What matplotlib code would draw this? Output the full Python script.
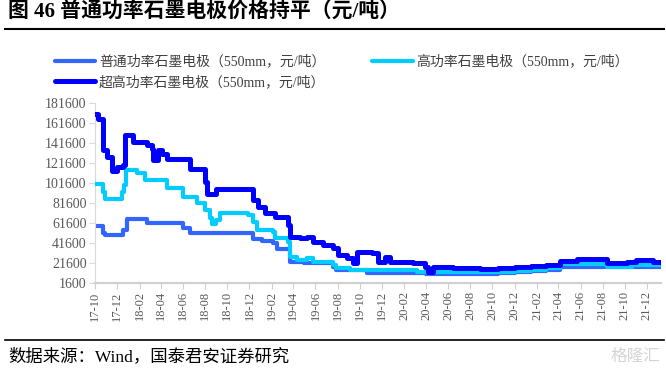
import numpy as np
import pandas as pd
import matplotlib
matplotlib.use('Agg')
import matplotlib.pyplot as plt
import matplotlib.dates as mdates
from matplotlib.lines import Line2D

plt.rcParams['font.family'] = ['Liberation Serif', 'Noto Sans CJK SC']

# 普通功率石墨电极 (550mm, 元/吨)
rp_dates = ['2017-10-01', '2017-10-24', '2017-10-29', '2017-12-18', '2017-12-27', '2018-02-21',
            '2018-06-01', '2018-06-20', '2018-12-11', '2019-01-04', '2019-02-05', '2019-02-14',
            '2019-03-23', '2019-05-01', '2019-07-20', '2019-07-29', '2019-10-20', '2020-04-01',
            '2020-08-27', '2020-10-15', '2020-12-01', '2021-01-15', '2021-02-27', '2021-04-05',
            '2022-01-10']
rp_vals = [59000, 51300, 49600, 54600, 65600, 61300,
           56300, 52000, 45300, 43900, 41300, 35300,
           23000, 21500, 17900, 14600, 11900, 11000,
           10600, 11500, 12500, 13500, 14600, 17300,
           17300]

# 高功率石墨电极 (550mm, 元/吨)
hp_dates = ['2017-10-01', '2017-10-24', '2017-10-29', '2017-12-14', '2017-12-20', '2017-12-25',
            '2018-01-24', '2018-02-16', '2018-04-17', '2018-06-01', '2018-07-08', '2018-07-31',
            '2018-08-14', '2018-08-19', '2018-09-01', '2018-09-11', '2018-11-28', '2018-12-11',
            '2018-12-21', '2019-02-05', '2019-02-09', '2019-03-18', '2019-03-23', '2019-04-10',
            '2019-05-10', '2019-05-26', '2019-07-20', '2019-07-29', '2019-09-04', '2020-03-06',
            '2020-08-27', '2020-10-15', '2020-12-01', '2021-01-15', '2021-02-27', '2021-04-05',
            '2021-08-14', '2021-10-20', '2022-01-10']
hp_vals = [101000, 93000, 85600, 93000, 100000, 114600,
           111300, 104600, 96300, 88000, 81300, 74600,
           66300, 60600, 64600, 71300, 69600, 63000,
           54600, 52900, 46300, 43000, 28000, 24600,
           26300, 22900, 19600, 16300, 14600, 12900,
           12300, 13000, 14000, 15000, 16300, 20300,
           17900, 19600, 19600]

# 超高功率石墨电极 (550mm, 元/吨)
uhp_dates = ['2017-10-01', '2017-10-09', '2017-10-23', '2017-11-02', '2017-11-16', '2017-11-30',
             '2017-12-18', '2017-12-23', '2018-01-15', '2018-02-21', '2018-03-06', '2018-03-11',
             '2018-03-25', '2018-04-03', '2018-04-17', '2018-06-20', '2018-07-31', '2018-08-05',
             '2018-09-01', '2018-12-11', '2018-12-25', '2019-01-13', '2019-02-09', '2019-03-18',
             '2019-03-23', '2019-04-19', '2019-05-10', '2019-05-26', '2019-06-22', '2019-07-20',
             '2019-08-03', '2019-08-26', '2019-09-13', '2019-09-23', '2019-11-03', '2019-11-21',
             '2019-12-10', '2019-12-23', '2020-02-26', '2020-03-29', '2020-04-07', '2020-04-21',
             '2020-06-15', '2020-08-27', '2020-10-15', '2020-12-01', '2021-01-15', '2021-02-27',
             '2021-04-05', '2021-05-21', '2021-08-14', '2021-10-06', '2021-11-02', '2021-12-18',
             '2022-01-10']
uhp_vals = [171000, 166000, 135000, 128000, 114000, 118000,
            120000, 150000, 143000, 140000, 136000, 125000,
            135000, 131000, 126000, 116000, 103000, 91000,
            96000, 85000, 78000, 72000, 68000, 60000,
            48000, 46300, 47900, 42900, 39600, 36300,
            29600, 26300, 22000, 33000, 31300, 23000,
            28000, 23000, 21300, 18000, 13000, 17300,
            16500, 15300, 16500, 17500, 18500, 19600,
            24000, 25600, 21900, 22900, 24600, 22900,
            22900]

labels = ['普通功率石墨电极（550mm，元/吨）', '高功率石墨电极（550mm，元/吨）', '超高功率石墨电极（550mm，元/吨）']
colors = ['#3366ff', '#00ccff', '#0000ff']
widths = [3.0, 3.0, 3.6]

fig = plt.figure(figsize=(6.66, 3.72), dpi=100)
ax = fig.add_axes([0.1426, 0.2392, 0.85, 0.4839])

series = [(rp_dates, rp_vals), (hp_dates, hp_vals), (uhp_dates, uhp_vals)]
handles = []
for i, (d, v) in enumerate(series):
   ax.plot(pd.to_datetime(d), v, drawstyle='steps-post', color=colors[i], lw=widths[i],
           solid_joinstyle='round', zorder=2 + i)
   handles.append(Line2D([0], [0], color=colors[i], lw=widths[i], solid_capstyle='round'))

ax.set_xlim(pd.Timestamp('2017-10-01'), pd.Timestamp('2022-01-09'))
ax.set_ylim(1600, 181600)
ax.set_yticks(np.arange(1600, 181601, 20000))
ax.xaxis.set_major_locator(mdates.MonthLocator(bymonth=[2, 4, 6, 8, 10, 12]))
ax.xaxis.set_major_formatter(mdates.DateFormatter('%y-%m'))
for t in ax.get_xticklabels():
   t.set_rotation(90)

for s in ['top', 'right']:
   ax.spines[s].set_visible(False)
ax.spines['left'].set_color('#d9d9d9')
ax.spines['bottom'].set_color('#d0d0d0')
ax.spines['bottom'].set_linewidth(1.5)
ax.tick_params(axis='y', colors='#d9d9d9', labelcolor='#595959', labelsize=10, length=4, pad=2)
ax.tick_params(axis='x', colors='#d0d0d0', labelcolor='#595959', labelsize=9, length=4, pad=2)

# legend: row 1 = 普通 / 高 ; row 2 = 超高
leg = fig.legend([handles[0], handles[2], handles[1]], [labels[0], labels[2], labels[1]],
                 ncol=2, loc='upper left', bbox_to_anchor=(0.0826, 0.853), frameon=False,
                 prop={'family': ['Liberation Serif', 'Noto Sans CJK SC'], 'size': 10},
                 handlelength=2.9, handletextpad=0.25, columnspacing=3.4, labelspacing=0.5,
                 borderpad=0, borderaxespad=0)
for t in leg.get_texts():
   t.set_color('#404040')

fig.text(0.012, 0.965, '图 46 普通功率石墨电极价格持平（元/吨）', fontsize=15, fontweight='bold',
         ha='left', va='center', color='black')
fig.add_artist(Line2D([0.008, 0.997], [0.921, 0.921], color='black', lw=1.5))
fig.add_artist(Line2D([0.008, 0.997], [0.086, 0.086], color='black', lw=1.2))
fig.text(0.012, 0.040, '数据来源：Wind，国泰君安证券研究', fontsize=12.5, ha='left', va='center', color='black')
fig.text(0.992, 0.040, '格隆汇', fontsize=12, ha='right', va='center', color='#d4d4d4')

fig.savefig('out.png', dpi=100)
